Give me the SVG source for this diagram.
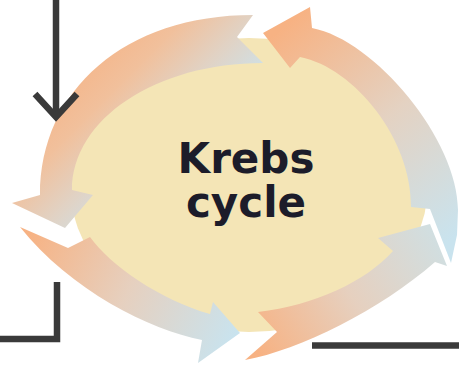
<svg xmlns="http://www.w3.org/2000/svg" width="459" height="365" viewBox="0 0 459 365">
  <style>
    .conn { fill: none; stroke: #3a3a3a; stroke-width: 6.5; stroke-linejoin: miter; stroke-linecap: butt; }
    .label { font-family: "DejaVu Sans", "Liberation Sans", sans-serif; font-weight: bold; font-size: 42px; fill: #1c1c2a; text-anchor: middle; }
  </style>
  <defs>
    <linearGradient id="g1" gradientUnits="userSpaceOnUse" x1="60" y1="60" x2="200" y2="200">
      <stop offset="0" stop-color="#f6b283"/>
      <stop offset="0.3" stop-color="#f1c09c"/>
      <stop offset="0.55" stop-color="#e0d3c6"/>
      <stop offset="0.8" stop-color="#cce3ec"/>
    </linearGradient>
    <linearGradient id="g2" gradientUnits="userSpaceOnUse" x1="280" y1="30" x2="450" y2="240">
      <stop offset="0" stop-color="#f7b283"/>
      <stop offset="0.5" stop-color="#e4d2c2"/>
      <stop offset="1" stop-color="#c9e3ee"/>
    </linearGradient>
    <linearGradient id="g3" gradientUnits="userSpaceOnUse" x1="30" y1="230" x2="235" y2="335">
      <stop offset="0" stop-color="#f7b283"/>
      <stop offset="0.5" stop-color="#e6d0bf"/>
      <stop offset="1" stop-color="#c9e3ee"/>
    </linearGradient>
    <linearGradient id="g4" gradientUnits="userSpaceOnUse" x1="255" y1="345" x2="440" y2="235">
      <stop offset="0" stop-color="#f7b283"/>
      <stop offset="0.5" stop-color="#e6d0bf"/>
      <stop offset="1" stop-color="#d0dfe2"/>
    </linearGradient>
  </defs>
  <rect width="459" height="365" fill="#ffffff"/>
  <g id="krebs-cycle">
    <ellipse cx="249" cy="185" rx="179" ry="147" fill="#f4e5b6"/>
    <path id="arrow-top-left" fill="url(#g1)" d="M253,15 C125,15 40,90 40,195 L12,203 L65,228 L93,195 L72,190 C72,119 156,63 263,63 L237,37 Z"/>
    <path id="arrow-right" fill="url(#g2)" d="M263,33 L310,7 L312,28 C375,40 458,140 458,210 L457,235 L451,263 L430,209 L411,207 C412,140 355,68 300,57 L290,68 Z"/>
    <path id="arrow-bottom-left" fill="url(#g3)" d="M20,227 C70,290 150,330 202,340 L198,363 L240,333 L213,302 L210,314 C160,300 110,265 90,237 L68,248 Z"/>
    <path id="arrow-bottom-right" fill="url(#g4)" d="M245,360 C300,350 380,310 435,262 L447,266 L430,224 L378,238 L393,251 C365,282 315,305 258,312 L277,332 Z"/>
    <text class="label" x="246" y="173">Krebs</text>
    <text class="label" x="246" y="217">cycle</text>
  </g>
  <g id="connectors">
    <path class="conn" d="M56,0 V114"/>
    <polyline class="conn" points="35,94 56,117 77,94"/>
    <polyline class="conn" points="57,282 57,339 0,339"/>
    <line class="conn" x1="312" y1="345.5" x2="459" y2="345.5"/>
  </g>
</svg>
